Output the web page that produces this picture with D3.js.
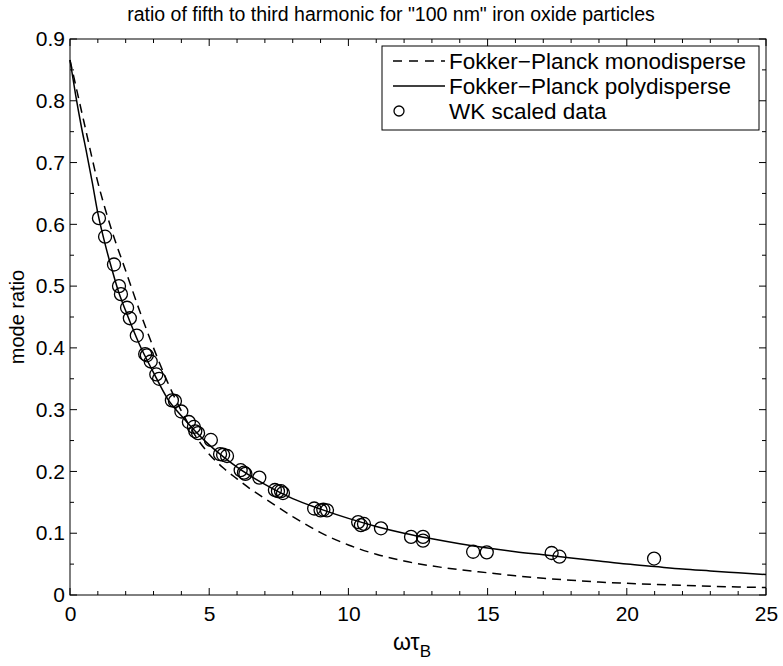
<!DOCTYPE html>
<html><head><meta charset="utf-8">
<script src="https://cdn.jsdelivr.net/npm/d3@7"></script>
<style>body{margin:0;background:#fff}svg{display:block}text{font-family:"Liberation Sans",Arial,Helvetica,sans-serif;fill:#000}</style>
</head><body>
<svg id="c" width="783" height="666"></svg>
<script>
const titleText = 'ratio of fifth to third harmonic for "100 nm" iron oxide particles';
const xTicks = [0,5,10,15,20,25];
const yTicks = [0,0.1,0.2,0.3,0.4,0.5,0.6,0.7,0.8,0.9];
const legendLabels = ["Fokker\u2212Planck monodisperse","Fokker\u2212Planck polydisperse","WK scaled data"];

// Fokker-Planck monodisperse (dashed)
const monoX = [0,0.5,1.0,1.5,2.0,2.5,3.0,3.5,4.0,4.5,5.0,5.5,6.0,6.5,7,8,9,10,11,12,13,14,15,16,17,18,19,20,22,24,25];
const monoY = [0.866,0.766,0.668,0.59,0.525,0.46,0.40,0.345,0.298,0.258,0.228,0.206,0.188,0.171,0.156,0.127,0.101,0.081,0.066,0.055,0.047,0.041,0.036,0.031,0.027,0.024,0.021,0.019,0.0155,0.013,0.012];
// Fokker-Planck polydisperse (solid)
const polyX = [0,0.2,0.4,0.6,0.8,1.0,1.25,1.5,1.75,2.0,2.5,3.0,3.5,4.0,4.5,5.0,5.5,6,7,8,9,10,11,12,13,14,15,16,17,18,19,20,21,22,23,24,25];
const polyY = [0.866,0.81,0.76,0.715,0.668,0.618,0.57,0.528,0.49,0.46,0.405,0.36,0.318,0.29,0.265,0.243,0.224,0.207,0.179,0.156,0.139,0.124,0.111,0.100,0.091,0.083,0.076,0.070,0.065,0.060,0.055,0.050,0.046,0.042,0.039,0.036,0.033];
// WK scaled data (circles)
const wkX = [1.04,1.26,1.58,1.76,1.83,2.05,2.15,2.4,2.7,2.76,2.9,3.1,3.2,3.66,3.77,4.0,4.27,4.45,4.5,4.6,5.06,5.39,5.5,5.64,6.13,6.25,6.3,6.8,7.36,7.47,7.58,7.65,8.77,9.0,9.1,9.23,10.35,10.45,10.56,11.17,12.25,12.68,12.68,14.48,14.97,17.3,17.58,20.98];
const wkY = [0.61,0.58,0.535,0.50,0.487,0.465,0.448,0.42,0.39,0.388,0.378,0.357,0.35,0.315,0.314,0.297,0.28,0.272,0.265,0.262,0.251,0.228,0.227,0.225,0.202,0.198,0.196,0.19,0.17,0.168,0.168,0.165,0.14,0.137,0.138,0.137,0.118,0.113,0.115,0.108,0.094,0.094,0.088,0.07,0.069,0.068,0.062,0.059];

const FONT = '"Liberation Sans",Arial,sans-serif';
const svg = d3.select("#c");
const L=70, R=766, T=39, B=595;
const x = d3.scaleLinear().domain([0,25]).range([L,R]);
const y = d3.scaleLinear().domain([0,0.9]).range([B,T]);

// ticks (inward, mirrored)
const g = svg.append("g").attr("stroke","#000").attr("stroke-width",1);
d3.range(0,26,1).forEach(v=>{
  const len = (v%5===0)?7:4;
  g.append("line").attr("x1",x(v)).attr("x2",x(v)).attr("y1",B).attr("y2",B-len);
  g.append("line").attr("x1",x(v)).attr("x2",x(v)).attr("y1",T).attr("y2",T+len);
});
d3.range(0,19).forEach(i=>{
  const v=i*0.05, len = (i%2===0)?7:4;
  g.append("line").attr("y1",y(v)).attr("y2",y(v)).attr("x1",L).attr("x2",L+len);
  g.append("line").attr("y1",y(v)).attr("y2",y(v)).attr("x1",R).attr("x2",R-len);
});

// tick labels via axes
const xa = svg.append("g").attr("transform",`translate(0,${B})`)
  .call(d3.axisBottom(x).tickValues(xTicks).tickSize(0).tickPadding(11).tickFormat(d3.format("d")));
xa.select(".domain").remove();
xa.selectAll("text").style("font-size","21px").style("font-family",FONT);
const ya = svg.append("g").attr("transform",`translate(${L},0)`)
  .call(d3.axisLeft(y).tickValues(yTicks).tickSize(0).tickPadding(5).tickFormat(d=>d===0?"0":d3.format(".1f")(d)));
ya.select(".domain").remove();
ya.selectAll("text").style("font-size","21px").style("font-family",FONT);

// lines
const line = d3.line().x(d=>x(d[0])).y(d=>y(d[1])).curve(d3.curveMonotoneX);
svg.append("path").datum(monoX.map((v,i)=>[v,monoY[i]])).attr("d",line)
  .attr("fill","none").attr("stroke","#000").attr("stroke-width",1.5).attr("stroke-dasharray","9,6");
svg.append("path").datum(polyX.map((v,i)=>[v,polyY[i]])).attr("d",line)
  .attr("fill","none").attr("stroke","#000").attr("stroke-width",1.5);

// circles
svg.append("g").selectAll("circle").data(wkX.map((v,i)=>[v,wkY[i]])).join("circle")
  .attr("cx",d=>x(d[0])).attr("cy",d=>y(d[1])).attr("r",6.5)
  .attr("fill","none").attr("stroke","#000").attr("stroke-width",1.3);

// frame
svg.append("rect").attr("x",L).attr("y",T).attr("width",R-L).attr("height",B-T)
  .attr("fill","none").attr("stroke","#000").attr("stroke-width",1);

// legend
const lg = svg.append("g");
lg.append("rect").attr("x",382).attr("y",46).attr("width",377).attr("height",84)
  .attr("fill","#fff").attr("stroke","#000").attr("stroke-width",1);
const rowY = [61,86,111];
lg.append("line").attr("x1",393).attr("x2",445).attr("y1",rowY[0]).attr("y2",rowY[0])
  .attr("stroke","#000").attr("stroke-width",1.5).attr("stroke-dasharray","9,7");
lg.append("line").attr("x1",393).attr("x2",445).attr("y1",rowY[1]).attr("y2",rowY[1])
  .attr("stroke","#000").attr("stroke-width",1.5);
lg.append("circle").attr("cx",399).attr("cy",rowY[2]).attr("r",5)
  .attr("fill","none").attr("stroke","#000").attr("stroke-width",1.3);
legendLabels.forEach((t,i)=>{
  lg.append("text").attr("x",449).attr("y",rowY[i]).attr("dy","0.36em").style("font-size","22.5px").text(t);
});

// title and labels
svg.append("text").attr("x",391).attr("y",21).attr("text-anchor","middle").style("font-size","19.5px").text(titleText);
svg.append("text").attr("transform",`translate(24,${(T+B)/2}) rotate(-90)`).attr("text-anchor","middle").style("font-size","20px").text("mode ratio");
const xl = svg.append("text").attr("x",412).attr("y",650).attr("text-anchor","middle").style("font-size","23px");
xl.append("tspan").text("\u03c9\u03c4");
xl.append("tspan").attr("dy","7").style("font-size","17px").text("B");
</script>
</body></html>
